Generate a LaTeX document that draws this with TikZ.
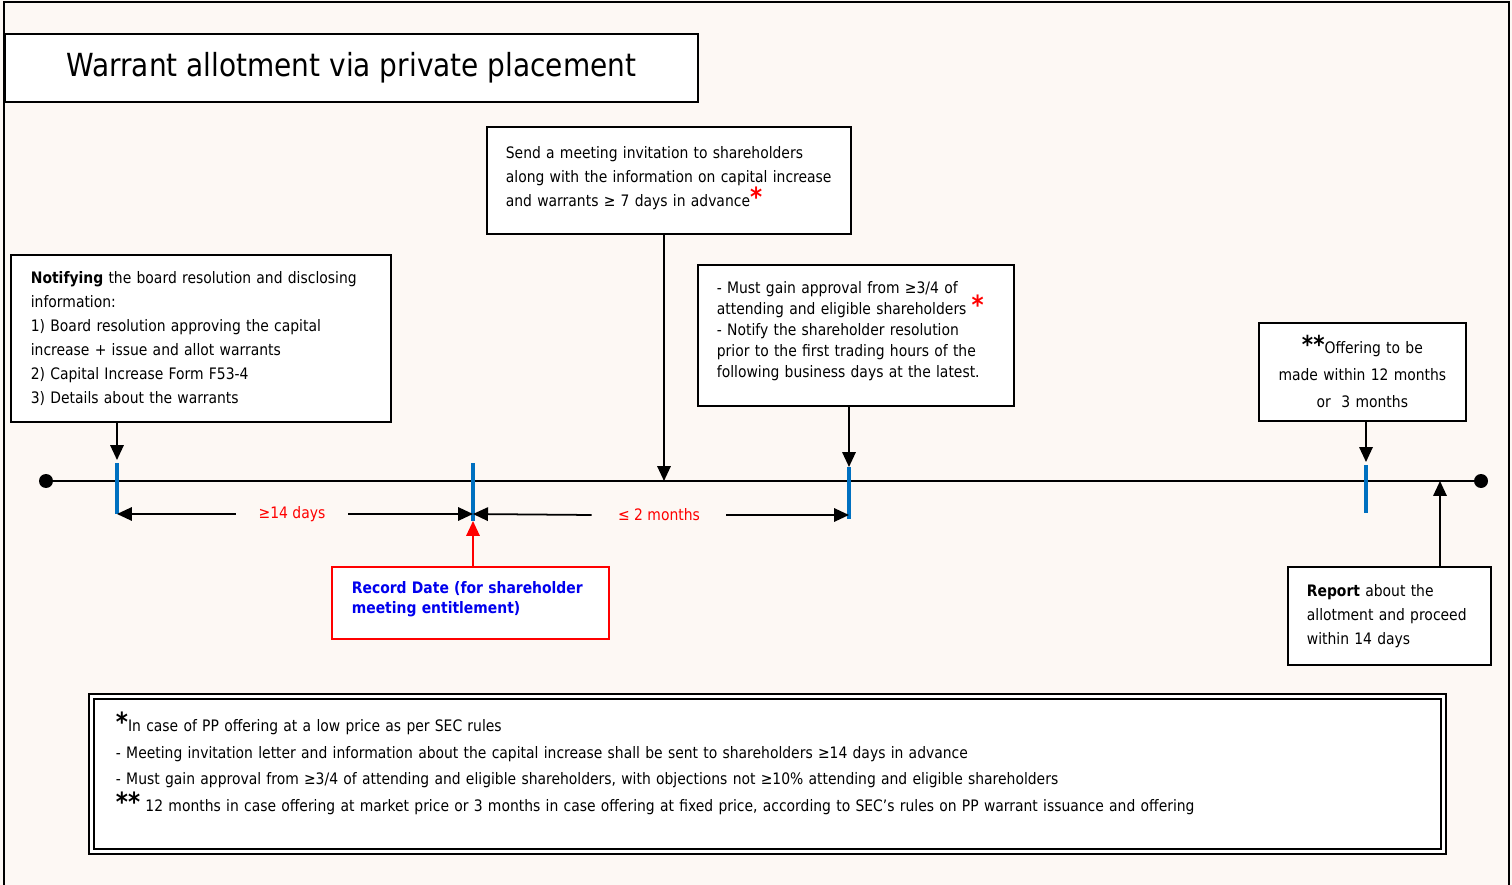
\documentclass[tikz,border=0pt]{standalone}
\usepackage{fontspec}
\setmainfont{DejaVu Sans}[FakeStretch=0.88]
\usepackage{tikz}
\usetikzlibrary{arrows.meta,positioning}
\definecolor{cream}{HTML}{FDF8F4}
\definecolor{tickblue}{HTML}{0070C0}
\definecolor{recblue}{HTML}{0000EE}
\newcommand{\lift}[1]{\rule[-#1]{0pt}{0pt}}
\newcommand{\bigstar}[1]{\raisebox{0pt}[0pt][0pt]{\fontsize{15}{12}\selectfont\bfseries #1}}

\begin{document}
\begin{tikzpicture}[x=0.02cm,y=-0.02cm,
  box/.style={draw,line width=1pt,fill=white,anchor=north west,align=left,inner xsep=0.38cm,inner ysep=0pt,font=\fontsize{9}{13.6}\selectfont},
  arr/.style={-{Triangle[length=0.3cm,width=0.27cm]},line width=1pt},
  tickline/.style={tickblue,line width=2pt},
  dimlabel/.style={red,font=\fontsize{9}{11}\selectfont,inner sep=0pt,minimum height=0.3cm}]
  \fill[cream] (0,0) rectangle (1512,885);
  \useasboundingbox (0,0) rectangle (1512,885);
  \draw[line width=1pt] (4,885) -- (4,2) -- (1509,2) -- (1509,885);

  \node[draw,line width=1pt,fill=white,anchor=north west,minimum width=13.86cm,minimum height=1.36cm,font=\fontsize{18.1}{19}\selectfont] (title) at (4,33) {Warrant allotment via private placement};

  \node[box,inner xsep=0.4cm,text width=6.8cm,minimum height=3.34cm] (notify) at (10,254)
    {\textbf{Notifying} the board resolution and disclosing\\
     information:\\
     1) Board resolution approving the capital\\
     increase + issue and allot warrants\\
     2) Capital Increase Form F53-4\\
     3) Details about the warrants};
  \node[box,text width=6.52cm,minimum height=2.14cm] (invite) at (486,126)
    {Send a meeting invitation to shareholders\\
     along with the information on capital increase\\
     and warrants ≥ 7 days in advance{\color{red}\bigstar{*}}\lift{0.16cm}};
  \node[box,text width=5.56cm,minimum height=2.82cm,font=\fontsize{9}{11.9}\selectfont] (approval) at (697,264)
    {- Must gain approval from ≥3/4 of\\
     attending and eligible shareholders {\color{red}\bigstar{*}}\\
     - Notify the shareholder resolution\\
     prior to the first trading hours of the\\
     following business days at the latest.\lift{0.24cm}};
  \node[box,align=center,inner xsep=0.1cm,text width=3.94cm,minimum height=1.96cm,font=\fontsize{9}{15.4}\selectfont] (offering) at (1258,322)
    {{\fontsize{14}{15.4}\selectfont\bfseries **}Offering to be\\ made within 12 months\\ or~~3 months};
  \node[box,draw=red,inner xsep=0.4cm,text width=4.74cm,minimum height=1.44cm,font=\fontsize{9}{11.3}\selectfont\bfseries,text=recblue] (record) at (331,566)
    {Record Date (for shareholder\\ meeting entitlement)\lift{0.2cm}};
  \node[box,text width=3.3cm,minimum height=1.96cm] (report) at (1287,566)
    {\textbf{Report} about the\\ allotment and proceed\\ within 14 days};
  \node[box,double,double distance=1.6pt,line width=1.1pt,inner xsep=0.49cm,text width=26.06cm,minimum height=3.1cm,font=\fontsize{9}{15.3}\selectfont] (notes) at (90.5,695.5)
    {\bigstar{*}In case of PP offering at a low price as per SEC rules\\
     - Meeting invitation letter and information about the capital increase shall be sent to shareholders ≥14 days in advance\\
     - Must gain approval from ≥3/4 of attending and eligible shareholders, with objections not ≥10\% attending and eligible shareholders\\
     \bigstar{**} 12 months in case offering at market price or 3 months in case offering at fixed price, according to SEC’s rules on PP warrant issuance and offering\lift{0.34cm}};

  % timeline
  \coordinate (dotL) at (46,481);
  \coordinate (dotR) at (1481,481);
  \draw[line width=1.2pt] (dotL) -- (dotR);
  \fill (dotL) circle [radius=0.14cm];
  \fill (dotR) circle [radius=0.14cm];
  \coordinate (tk1) at (117,463); \coordinate (tb1) at (117,514);
  \coordinate (tk2) at (473,463); \coordinate (tb2) at (473,521);
  \coordinate (tk3) at (849,467); \coordinate (tb3) at (849,519);
  \coordinate (tk4) at (1366,465); \coordinate (tb4) at (1366,513);
  \draw[tickline] (tk1) -- (tb1);
  \draw[tickline] (tk2) -- (tb2);
  \draw[tickline] (tk3) -- (tb3);
  \draw[tickline] (tk4) -- (tb4);

  \coordinate (iv) at (664,481);
  \coordinate (rp) at (1440,481);
  \draw[arr,shorten >=0.06cm] (notify.south -| tk1) -- (tk1);
  \draw[arr] (invite.south -| iv) -- (iv);
  \draw[arr] (approval.south -| tk3) -- (tk3);
  \draw[arr,shorten >=0.06cm] (offering.south -| tk4) -- (tk4);
  \draw[arr] (report.north -| rp) -- (rp);
  \draw[arr,red] (record.north -| tk2) -- (tb2);

  % spans
  \coordinate (d1) at (117,514);
  \coordinate (d2) at (473,514);
  \coordinate (d3) at (849,515);
  \node[dimlabel,minimum width=2.24cm] (gap1) at (292,514) {≥14 days};
  \node[dimlabel,minimum width=2.68cm] (gap2) at (659,515) {≤ 2 months};
  \draw[arr] (gap1.west) -- (d1);
  \draw[arr] (gap1.east) -- (d2);
  \draw[arr] (gap2.west) -- (d2);
  \draw[arr] (gap2.east) -- (d3);
\end{tikzpicture}
\end{document}
